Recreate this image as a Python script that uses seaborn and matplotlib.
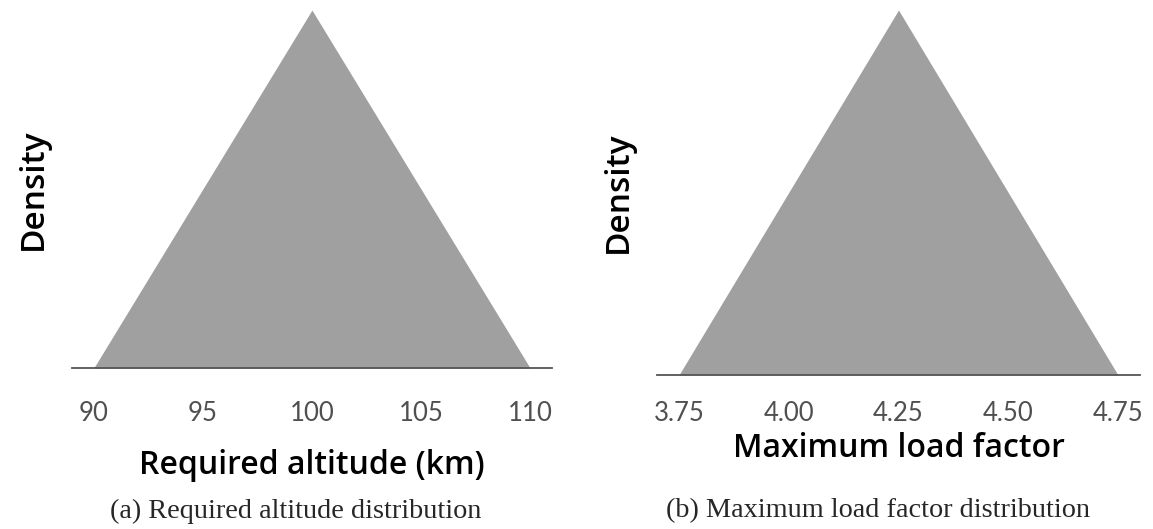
import matplotlib
matplotlib.use("Agg")
import matplotlib.pyplot as plt
import seaborn as sns
from matplotlib.ticker import FormatStrFormatter

# triangular distributions (min, mode, max) -> density outline
alt_x = [90, 100, 110]
alt_density = [0, 0.1, 0]
alt_ticks = [90, 95, 100, 105, 110]

load_x = [3.75, 4.25, 4.75]
load_density = [0, 2.0, 0]
load_ticks = [3.75, 4.00, 4.25, 4.50, 4.75]

fill_col = "#a0a0a0"
spine_col = "#555555"

sns.set_style("white")

fig = plt.figure(figsize=(11.53, 5.29), dpi=100)
ax1 = fig.add_axes([0.0624, 0.3043, 0.4163, 0.6767])
ax2 = fig.add_axes([0.5698, 0.2911, 0.4189, 0.6900])


def tri_panel(ax, xs, ys, ticks, xlabel, pad, lpad):
    sns.lineplot(x=xs, y=ys, ax=ax, color=fill_col, linewidth=0)
    ax.fill_between(xs, ys, color=fill_col, linewidth=0)
    ax.margins(x=0.05)
    ax.set_ylim(0, max(ys))
    ax.set_xticks(ticks)
    ax.set_yticks([])
    ax.tick_params(axis="x", length=0, pad=pad, labelsize=18.5, labelcolor="#505050")
    for lab in ax.get_xticklabels():
        lab.set_fontfamily("Lato")
    ax.set_xlabel(xlabel, fontsize=23, fontfamily="Open Sans", fontweight="semibold",
                  labelpad=lpad, color="black")
    ax.set_ylabel("Density", fontsize=24, fontfamily="Open Sans", fontweight="semibold",
                  labelpad=16, color="black")
    sns.despine(ax=ax, left=True)
    ax.spines["bottom"].set_color(spine_col)
    ax.spines["bottom"].set_linewidth(1.3)


tri_panel(ax1, alt_x, alt_density, alt_ticks, "Required altitude (km)", 24, 16)
tri_panel(ax2, load_x, load_density, load_ticks, "Maximum load factor", 19, 4)
ax2.xaxis.set_major_formatter(FormatStrFormatter("%.2f"))

fig.text(296 / 1153, 1 - 511 / 529, "(a) Required altitude distribution",
         ha="center", va="center", fontsize=20.3, fontfamily="Liberation Serif")
fig.text(878 / 1153, 1 - 511 / 529, "(b) Maximum load factor distribution",
         ha="center", va="center", fontsize=20.3, fontfamily="Liberation Serif")

fig.savefig("out.png", dpi=100)
